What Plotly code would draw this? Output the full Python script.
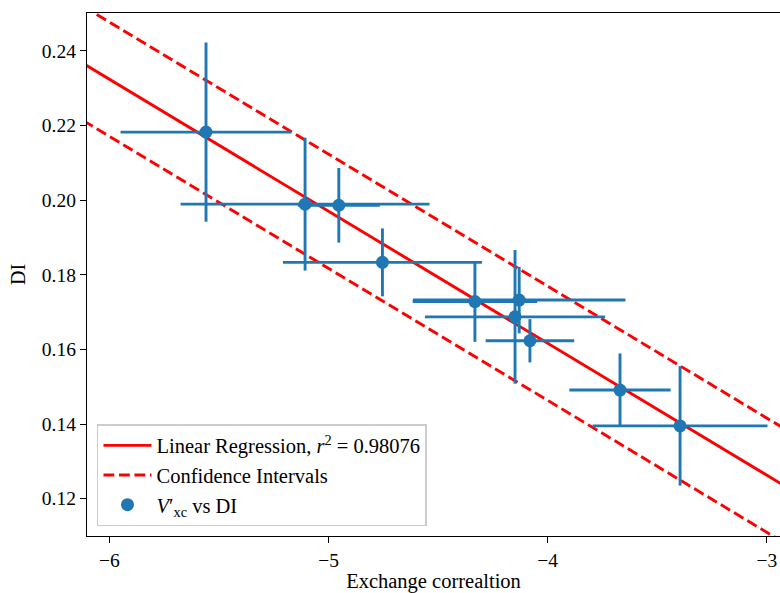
import numpy as np
import plotly.graph_objects as go

# Data
exch_corr = [-5.559, -5.107, -4.953, -4.754, -4.332, -4.130, -4.149, -4.081, -3.670, -3.396]
di_values = [0.2182, 0.1989, 0.1986, 0.1833, 0.1728, 0.1732, 0.1687, 0.1623, 0.1491, 0.1395]
x_err = [0.39, 0.568, 0.187, 0.454, 0.284, 0.485, 0.411, 0.202, 0.231, 0.399]
y_err = [0.024, 0.0178, 0.010, 0.0091, 0.0108, 0.0089, 0.0179, 0.0058, 0.0098, 0.016]

slope = -0.03536
intercept = 0.0202
ci_half_width = 0.0153
r_squared = 0.98076

x_ticks = [-6, -5, -4, -3]
y_ticks = [0.12, 0.14, 0.16, 0.18, 0.20, 0.22, 0.24]

x_line = np.linspace(-6.3, -2.8, 50)
y_fit = slope * x_line + intercept

blue = "#1f77b4"
font_family = "Liberation Serif, DejaVu Serif, serif"
dash = "10.8px,4.7px"

fig = go.Figure()
fig.add_trace(go.Scatter(
    x=x_line, y=y_fit, mode="lines",
    line=dict(color="red", width=2.9),
    name=f"Linear Regression, <i>r</i><sup>2</sup> = {r_squared:.5f}",
))
fig.add_trace(go.Scatter(
    x=x_line, y=y_fit + ci_half_width, mode="lines",
    line=dict(color="red", width=2.9, dash=dash),
    name="Confidence Intervals", legendgroup="ci",
))
fig.add_trace(go.Scatter(
    x=x_line, y=y_fit - ci_half_width, mode="lines",
    line=dict(color="red", width=2.9, dash=dash),
    name="Confidence Intervals", legendgroup="ci", showlegend=False,
))
fig.add_trace(go.Scatter(
    x=exch_corr, y=di_values, mode="markers",
    marker=dict(color=blue, size=13),
    error_x=dict(type="data", array=x_err, color=blue, thickness=2.9, width=0),
    error_y=dict(type="data", array=y_err, color=blue, thickness=2.9, width=0),
    name="<i>V</i>′<sub>xc</sub> vs DI",
))

fig.update_layout(
    width=780, height=593,
    margin=dict(l=87, r=0, t=13, b=57),
    paper_bgcolor="white", plot_bgcolor="white",
    font=dict(family=font_family, size=19, color="black"),
    showlegend=True,
    legend=dict(
        x=0.0144, y=0.019, xanchor="left", yanchor="bottom",
        bgcolor="rgba(255,255,255,0.8)", bordercolor="#cccccc", borderwidth=1.5,
        font=dict(family=font_family, size=20.5),
        tracegroupgap=0, itemwidth=48,
    ),
    xaxis=dict(
        range=[-6.102, -2.94], tickvals=x_ticks, ticks="outside", ticklen=6,
        tickwidth=1.2, tickcolor="black", showgrid=False, zeroline=False,
        showline=True, linecolor="black", linewidth=1.4, mirror=True,
        tickfont=dict(size=19.5),
        title=dict(text="Exchange correaltion", standoff=6, font=dict(size=20.5)),
    ),
    yaxis=dict(
        range=[0.110, 0.2501], tickvals=y_ticks, tickformat=".2f",
        ticks="outside", ticklen=6, tickwidth=1.2, tickcolor="black",
        showgrid=False, zeroline=False,
        showline=True, linecolor="black", linewidth=1.4, mirror=False,
        tickfont=dict(size=19.5),
        title=dict(text="DI", standoff=10, font=dict(size=20)),
    ),
)

fig.write_html("out.html")
